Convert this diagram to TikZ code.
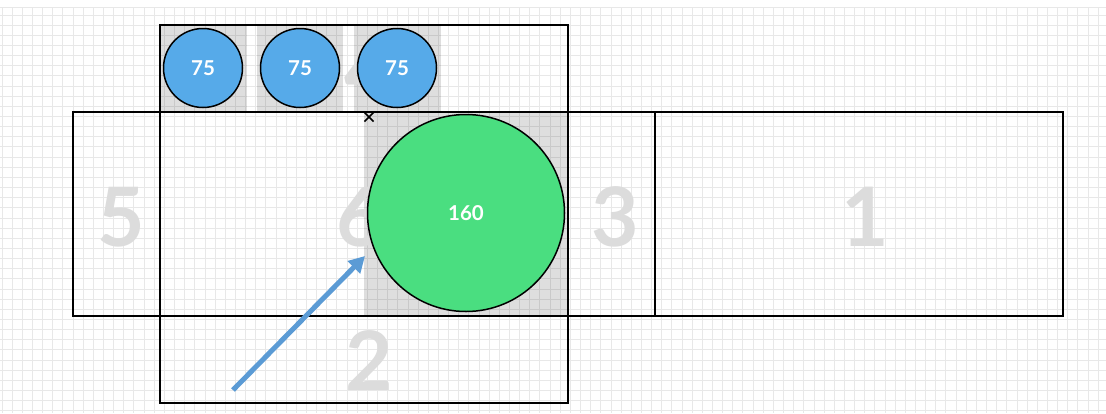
\documentclass[tikz,border=0pt]{standalone}
\usepackage{fontspec}
\setmainfont{Lato}
\usetikzlibrary{arrows.meta}
\definecolor{gridc}{RGB}{232,232,232}
\definecolor{digitc}{RGB}{220,220,220}
\definecolor{bluec}{RGB}{86,170,233}
\definecolor{greenc}{RGB}{74,222,128}
\definecolor{arrowc}{RGB}{91,155,213}
\tikzset{
  gridline/.style={draw=gridc, line width=1pt},
  shade/.style={fill=black, fill opacity=0.13},
  face/.style={draw=black, line width=1.5pt, rectangle, inner sep=0pt, outer sep=0pt},
  digit/.style={text=digitc, font=\fontsize{82}{82}\selectfont\bfseries, inner sep=0pt},
  ball/.style={circle, draw=black, line width=1.5pt, text=white, inner sep=0pt, font=\fontsize{20.5}{20.5}\selectfont\bfseries},
  arrowline/.style={draw=arrowc, line width=5pt, -{Triangle[length=16pt,width=17pt]}},
}
\begin{document}
\begin{tikzpicture}[x=1pt,y=-1pt]
\useasboundingbox (0,0) rectangle (1106,413);
\fill[white] (0,0) rectangle (1106,413);
% grid
\draw[gridline] (0,7) -- (1106,7);
\foreach \i in {0,...,108} \draw[gridline] ({2+10.15*\i},7) -- ({2+10.15*\i},413);
\foreach \j in {0,...,39} \draw[gridline] (0,{15+10.15*\j}) -- (1106,{15+10.15*\j});
% shaded regions
\fill[shade] (160,25) rectangle (247,112);
\fill[shade] (257,25) rectangle (343,112);
\fill[shade] (354,25) rectangle (441,112);
\fill[shade] (364,112) rectangle (568,316);
% digits
\node[digit] (n4) at (368,70) {4};
\node[digit] (n5) at (121,217) {5};
\node[digit] (n6) at (360,217) {6};
\node[digit] (n3) at (615,217) {3};
\node[digit] (n1) at (865,217) {1};
\node[digit] (n2) at (369,361) {2};
% faces
\node[face, minimum width=408pt, minimum height=87pt] (f4) at (364,68.5) {};
\node[face, minimum width=87pt, minimum height=204pt] (f5) at (116.5,214) {};
\node[face, minimum width=408pt, minimum height=204pt] (f6) at (364,214) {};
\node[face, minimum width=87pt, minimum height=204pt] (f3) at (611.5,214) {};
\node[face, minimum width=408pt, minimum height=204pt] (f1) at (859,214) {};
\node[face, minimum width=408pt, minimum height=87pt] (f2) at (364,359.5) {};
% circles
\node[ball, fill=bluec, minimum size=79pt] (c1) at (203,68) {75};
\node[ball, fill=bluec, minimum size=79pt] (c2) at (300,68) {75};
\node[ball, fill=bluec, minimum size=79pt] (c3) at (397,68) {75};
\node[ball, fill=greenc, minimum size=197pt] (g) at (466,213) {160};
% arrow
\coordinate (as) at (233,390);
\coordinate (ae) at (365,256);
\draw[arrowline] (as) -- (ae);
% cross mark
\coordinate (xm) at (369,117);
\draw[line width=1.6pt] ([shift={(-4.5,-4.5)}]xm) -- ([shift={(4.5,4.5)}]xm);
\draw[line width=1.6pt] ([shift={(-4.5,4.5)}]xm) -- ([shift={(4.5,-4.5)}]xm);
\end{tikzpicture}
\end{document}
